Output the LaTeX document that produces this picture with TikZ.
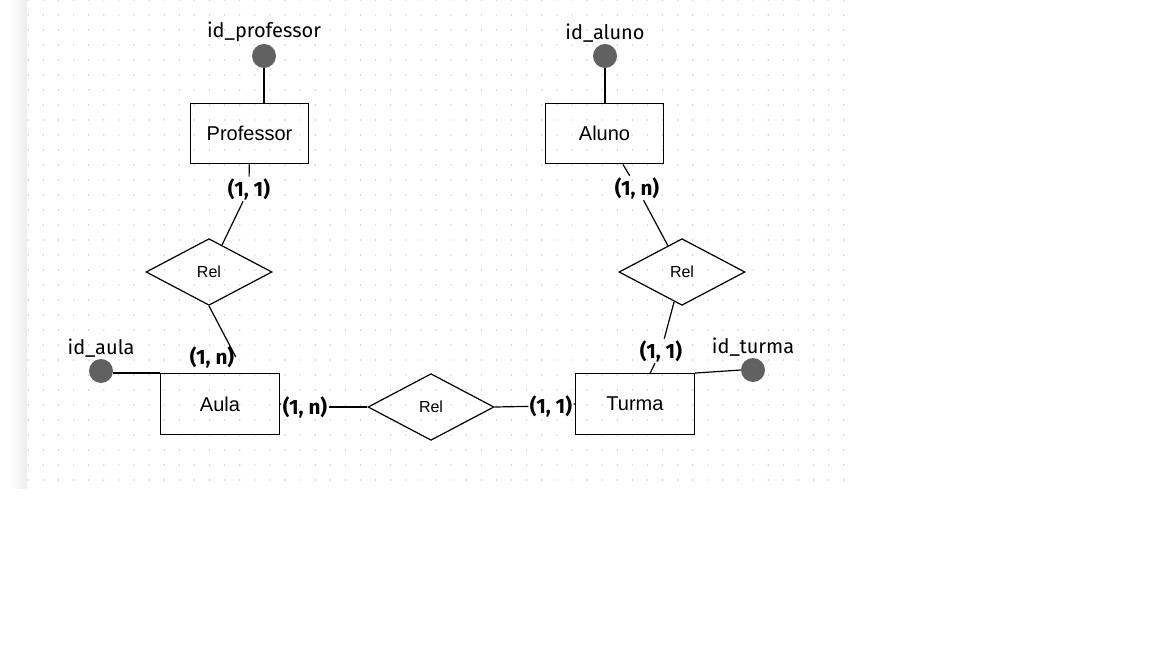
\documentclass[tikz,border=0pt]{standalone}
\usepackage{fontspec}
\setmainfont{Liberation Sans}
\newfontfamily\firafont{Fira Sans}
\usetikzlibrary{shapes.geometric}
\definecolor{attrgray}{HTML}{616161}
\definecolor{dotgray}{HTML}{CCCCCC}

\begin{document}
\begin{tikzpicture}[x=0.75pt,y=-0.75pt,
        entity/.style={draw,line width=0.9pt,minimum width=89pt,minimum height=45.5pt,font=\fontsize{15}{18}\selectfont},
        relation/.style={diamond,draw,line width=0.9pt,minimum width=94.5pt,minimum height=50pt,inner sep=0pt,font=\fontsize{12}{14}\selectfont},
        attr/.style={circle,fill=attrgray,minimum size=18pt,inner sep=0pt},
        idlabel/.style={font=\firafont\fontsize{15}{18}\selectfont,inner sep=1pt},
        card/.style={font=\firafont\bfseries\fontsize{15.5}{18}\selectfont,inner sep=1pt},
        link/.style={line width=0.9pt}]
        \useasboundingbox (0,0) rectangle (1152,648);
        % canvas
        \shade[left color=white,right color=black!7] (10,0) rectangle (27,488);
        \foreach \i in {0,...,54}{
            \foreach \j in {0,...,32}{
                \fill[dotgray] (28.3+15.1*\i,15*\j) circle (0.6pt);
            }
        }

        % entities
        \node[entity] (prof) at (249.5,133.5) {Professor};
        \node[entity] (aluno) at (604.5,133.5) {Aluno};
        \node[entity] (aula) at (220,404) {Aula};
        \node[entity] (turma) at (635,404) {Turma};

        % relations
        \node[relation] (rel1) at (209,272) {Rel};
        \node[relation] (rel2) at (682,272) {Rel};
        \node[relation] (rel3) at (431,407) {Rel};

        % keys
        \node[attr,label={[idlabel]above:id\_professor}] (idprof) at (264,56) {};
        \node[attr,label={[idlabel]above:id\_aluno}] (idaluno) at (605,56) {};
        \node[attr,label={[idlabel]above:id\_aula}] (idaula) at (101,371) {};
        \node[attr,label={[idlabel]above:id\_turma}] (idturma) at (753,370) {};

        % cardinalities
        \node[card] (c1) at (249,189) {(1, 1)};
        \node[card] (c2) at (212,357) {(1, n)};
        \node[card] (c3) at (305,407) {(1, n)};
        \node[card] (c4) at (551,406) {(1, 1)};
        \node[card] (c5) at (661,351) {(1, 1)};
        \node[card] (c6) at (637,188) {(1, n)};

        \draw[link] (idprof) -- (idprof |- prof.north);
        \draw[link] (idaluno) -- (idaluno |- aluno.north);
        \draw[link] (idaula.east |- aula.north west) -- (aula.north west);
        \draw[link] (turma.north east) -- (idturma.west);

        \draw[link] (prof) -- (c1);
        \draw[link] (c1) -- (rel1);
        \draw[link] (rel1.south) -- (c2.east);
        \draw[link] (aula.east) -- (c3);
        \draw[link] (c3) -- (rel3.west);
        \draw[link] (rel3.east) -- (c4);
        \draw[link] (c4) -- (turma.west);
        \draw[link] (turma) -- (c5);
        \draw[link] (c5) -- (rel2);
        \draw[link] (rel2) -- (c6);
        \draw[link] (c6) -- (aluno);
    \end{tikzpicture}
\end{document}
